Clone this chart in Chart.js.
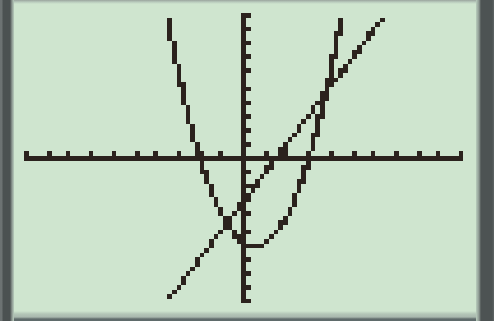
<!DOCTYPE html>
<html>
<head>
<meta charset="utf-8">
<script src="https://cdn.jsdelivr.net/npm/chart.js@4/dist/chart.umd.min.js"></script>
<style>
  html, body { margin: 0; padding: 0; }
  body {
    width: 494px; height: 321px; overflow: hidden; position: relative;
    background: #cfe5cf;
  }
  .bezel { position: absolute; }
  #left { left: 0; top: 0; width: 14px; height: 321px;
    background: linear-gradient(to right, #6c7272 0, #6c7272 2px, #4b5151 3px, #4b5151 10px, #8d9892 12px, #b9cdbd 14px); }
  #right { right: 0; top: 0; width: 18px; height: 321px;
    background: linear-gradient(to right, #b9cdbd 0, #8d9892 3px, #4d5353 5px, #4d5353 16px, #5f6565 18px); }
  #top { left: 14px; top: 0; width: 462px; height: 4px;
    background: linear-gradient(to bottom, #9aa49d 0, #b9cbbd 2px, #cfe5cf 4px); }
  #bottom { left: 14px; bottom: 0; width: 462px; height: 10px;
    background: linear-gradient(to bottom, #cfe5cf 0, #b3c6b7 3px, #a9b8ae 6px, #5f6b6b 8px, #5f6b6b 10px); }
  #screen {
    position: absolute; left: 24px; top: 13px;
    width: 95px; height: 63px;
    transform: scale(4.624, 4.61); transform-origin: 0 0;
  }
  #screen canvas { image-rendering: pixelated; }
</style>
</head>
<body>
<div class="bezel" id="left"></div>
<div class="bezel" id="right"></div>
<div class="bezel" id="top"></div>
<div class="bezel" id="bottom"></div>
<div id="screen"><canvas id="graph" width="95" height="63"></canvas></div>
<script>
// standard window, -10..10 on both axes
const xRange = [-10, 10];
const yRange = [-10, 10];

// Y1: parabola
const curveX = [-4, -3, -2, -1, 0, 0.5, 1, 2, 3, 4, 5];
const curveY = [14, 6, 0, -4, -6, -6.25, -6, -4, 0, 6, 14];

// Y2: straight line
const lineX = [-3.5, 6.5];
const lineY = [-10, 10];

const INK = 'rgb(43, 34, 29)';

const toPoints = (xs, ys) => xs.map((x, i) => ({ x: x, y: ys[i] }));

// snap everything to solid pixels like the calculator's LCD
const lcdPixels = {
  id: 'lcdPixels',
  afterDraw(chart) {
    const ctx = chart.ctx;
    const w = chart.canvas.width, h = chart.canvas.height;
    const img = ctx.getImageData(0, 0, w, h);
    const d = img.data;
    for (let i = 0; i < d.length; i += 4) {
      if (d[i + 3] > 110) {
        d[i] = 43; d[i + 1] = 34; d[i + 2] = 29; d[i + 3] = 255;
      } else {
        d[i + 3] = 0;
      }
    }
    ctx.putImageData(img, 0, 0);
  }
};

const axisGrid = {
  display: true,
  drawOnChartArea: false,
  drawTicks: true,
  tickLength: -2,
  color: INK,
  lineWidth: 1
};

new Chart(document.getElementById('graph'), {
  type: 'line',
  data: {
    datasets: [
      {
        data: toPoints(curveX, curveY),
        borderColor: INK,
        borderWidth: 1,
        pointRadius: 0,
        cubicInterpolationMode: 'monotone'
      },
      {
        data: toPoints(lineX, lineY),
        borderColor: INK,
        borderWidth: 1,
        pointRadius: 0
      }
    ]
  },
  options: {
    responsive: false,
    animation: false,
    devicePixelRatio: 1,
    layout: { padding: 0.5 },
    plugins: { legend: { display: false }, tooltip: { enabled: false } },
    scales: {
      x: {
        type: 'linear',
        min: xRange[0],
        max: xRange[1],
        position: { y: 0 },
        grid: axisGrid,
        border: { display: true, color: INK, width: 1 },
        ticks: { display: false, stepSize: 1, includeBounds: false }
      },
      y: {
        type: 'linear',
        min: yRange[0],
        max: yRange[1],
        position: { x: 0 },
        grid: axisGrid,
        border: { display: true, color: INK, width: 1 },
        ticks: { display: false, stepSize: 1, includeBounds: false }
      }
    }
  },
  plugins: [lcdPixels]
});
</script>
</body>
</html>
